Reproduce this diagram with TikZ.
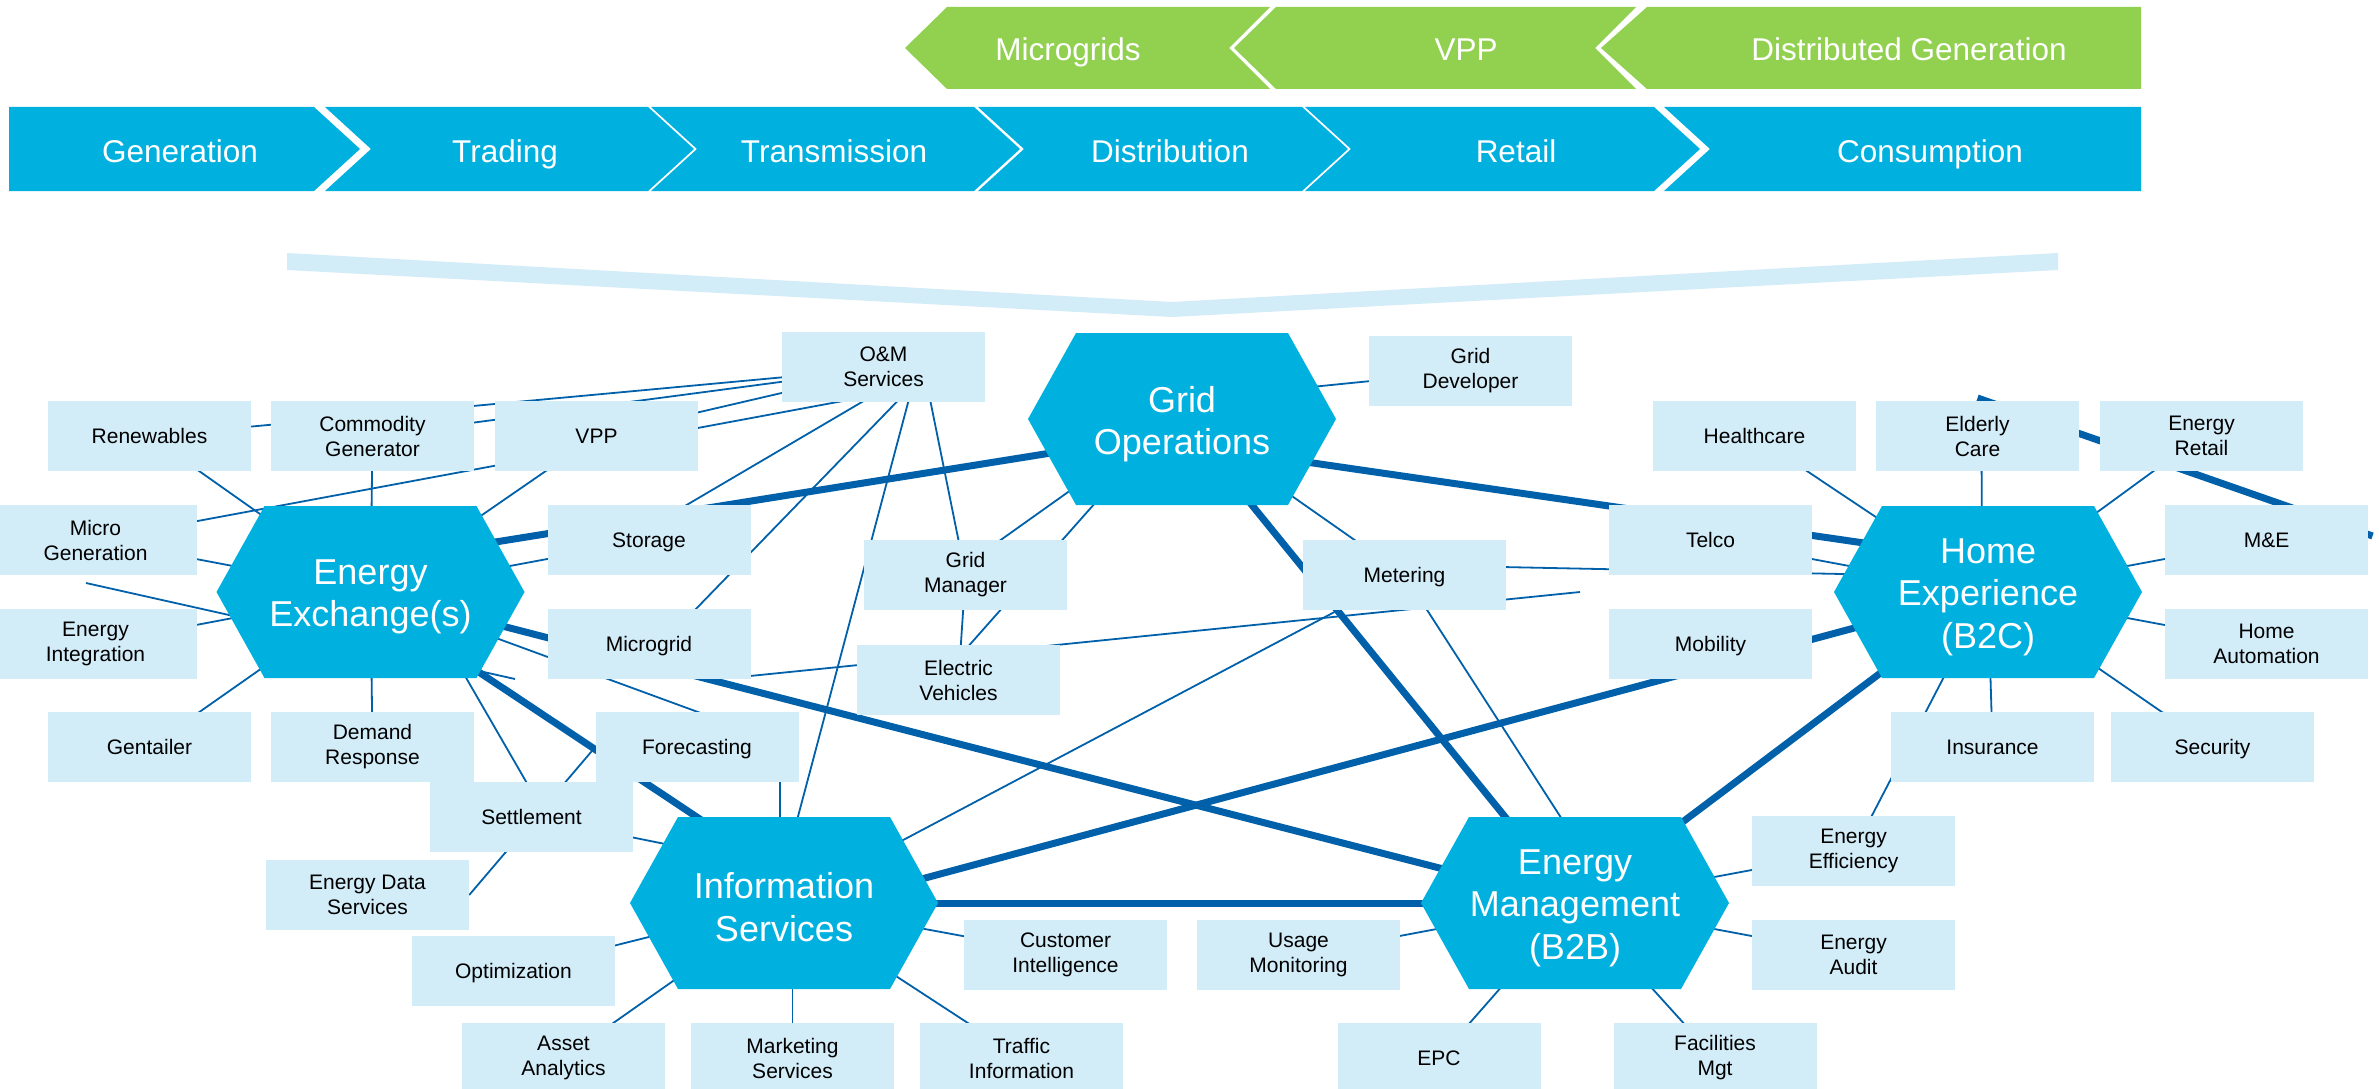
\documentclass[tikz,border=0pt]{standalone}
\usepackage{fontspec}
\setmainfont{Liberation Sans}
\usetikzlibrary{calc}
\definecolor{cblue}{RGB}{0,176,222}
\definecolor{cgreen}{RGB}{146,208,80}
\definecolor{cbox}{RGB}{210,236,248}
\definecolor{cband}{RGB}{210,236,248}
\definecolor{cline}{RGB}{0,97,170}
\pgfdeclarelayer{bgwhite}
\pgfdeclarelayer{lines}
\pgfdeclarelayer{hexes}
\pgfsetlayers{bgwhite,lines,hexes,main}
\newcommand\hexfill[1]{%
  \begin{pgfonlayer}{hexes}
  \fill[cblue] ($(#1.center)+(-154,0)$) -- ($(#1.center)+(-106,-86)$) -- ($(#1.center)+(106,-86)$) -- ($(#1.center)+(154,0)$) -- ($(#1.center)+(106,86)$) -- ($(#1.center)+(-106,86)$) -- cycle;
  \end{pgfonlayer}}
\begin{document}
\begin{tikzpicture}[x=1pt,y=-1pt,
  box/.style={fill=cbox, minimum width=203pt, minimum height=70pt, inner sep=0pt, align=center, font=\fontsize{21}{25}\selectfont, text=black},
  boxone/.style={box, text height=15pt, text depth=0pt},
  hexnode/.style={minimum width=307pt, minimum height=172pt, inner sep=0pt},
  hextext/.style={inner sep=0pt, align=center, font=\fontsize{36}{42.5}\selectfont, text=white},
  conn/.style={draw=cline, line width=1.8pt},
  bigconn/.style={draw=cline, line width=7pt},
  chevtext/.style={text=white, font=\fontsize{31.5}{36}\selectfont, inner sep=0pt, text height=22.5pt, text depth=0pt},
]
\useasboundingbox (0,0) rectangle (2379,1089);
\begin{pgfonlayer}{bgwhite}
\fill[white] (0,0) rectangle (2379,1089);
\end{pgfonlayer}
\clip (0,0) rectangle (2379,1089);

% green chevrons
\fill[cgreen] (905,48) -- (947,7) -- (1270,7) -- (1229,48) -- (1270,89) -- (947,89) -- cycle;
\fill[cgreen] (1234,48) -- (1276,7) -- (1636,7) -- (1595,48) -- (1636,89) -- (1276,89) -- cycle;
\fill[cgreen] (1601,48) -- (1647,7) -- (2141,7) -- (2141,89) -- (1647,89) -- cycle;
\node[chevtext] (tMicrogrids) at (1068,49) {Microgrids};
\node[chevtext] (tVPP) at (1466,49) {VPP};
\node[chevtext] (tDG) at (1909,49) {Distributed Generation};

% blue chevrons
\fill[cblue] (9,107) -- (314,107) -- (360,149) -- (314,191) -- (9,191) -- cycle;
\fill[cblue] (325,107) -- (648,107) -- (694,149) -- (648,191) -- (325,191) -- (371,149) -- cycle;
\fill[cblue] (651,107) -- (974,107) -- (1020,149) -- (974,191) -- (651,191) -- (697,149) -- cycle;
\fill[cblue] (978,107) -- (1302,107) -- (1348,149) -- (1302,191) -- (978,191) -- (1024,149) -- cycle;
\fill[cblue] (1305,107) -- (1654,107) -- (1700,149) -- (1654,191) -- (1305,191) -- (1351,149) -- cycle;
\fill[cblue] (1664,107) -- (2141,107) -- (2141,191) -- (1664,191) -- (1710,149) -- cycle;
\node[chevtext] (tGen) at (180,151) {Generation};
\node[chevtext] (tTrad) at (505,151) {Trading};
\node[chevtext] (tTrans) at (834,151) {Transmission};
\node[chevtext] (tDist) at (1170,151) {Distribution};
\node[chevtext] (tRet) at (1516,151) {Retail};
\node[chevtext] (tCons) at (1930,151) {Consumption};

% band
\fill[cband] (287,253) -- (1172,302) -- (2058,253) -- (2058,270) -- (1172,317) -- (287,270) -- cycle;

% hexagons
\node[hexnode] (ee) at (370.5,592) {};
\node[hexnode] (go) at (1182,419) {};
\node[hexnode] (he) at (1988,592) {};
\node[hexnode] (is) at (784,903) {};
\node[hexnode] (em) at (1575,903) {};
\hexfill{ee}\hexfill{go}\hexfill{he}\hexfill{is}\hexfill{em}
\node[hextext] (eeT) at ($(ee.center)+(0,5)$) {Energy\\Exchange(s)};
\node[hextext] (goT) at ($(go.center)+(0,5)$) {Grid\\Operations};
\node[hextext] (heT) at ($(he.center)+(0,5)$) {Home\\Experience\\(B2C)};
\node[hextext] (isT) at ($(is.center)+(0,4)$) {Information\\Services};
\node[hextext] (emT) at ($(em.center)+(0,5)$) {Energy\\Management\\(B2B)};

% boxes
\node[box] (om) at (883.5,367) {O\&M\\Services};
\node[box] (gd) at (1470.5,371) {Grid\\Developer};
\node[boxone] (ren) at (149.5,436) {Renewables};
\node[box] (cg) at (372.5,436) {Commodity\\Generator};
\node[boxone] (vpp) at (596.5,436) {VPP};
\node[boxone] (hc) at (1754.5,436) {Healthcare};
\node[box] (ec) at (1977.5,436) {Elderly\\Care};
\node[box] (er) at (2201.5,436) {Energy\\Retail};
\node[box] (mg) at (95.5,540) {Micro\\Generation};
\node[boxone] (sto) at (649,540) {Storage};
\node[box] (gm) at (965.5,575) {Grid\\Manager};
\node[boxone] (met) at (1404.5,575) {Metering};
\node[boxone] (tel) at (1710.5,540) {Telco};
\node[boxone] (me) at (2266.5,540) {M\&E};
\node[box] (ei) at (95.5,644) {Energy\\Integration};
\node[boxone] (mgd) at (649,644) {Microgrid};
\node[box] (ev) at (958.5,680) {Electric\\Vehicles};
\node[boxone] (mob) at (1710.5,644) {Mobility};
\node[box] (ha) at (2266.5,644) {Home\\Automation};
\node[boxone] (gen) at (149.5,747) {Gentailer};
\node[box] (dr) at (372.5,747) {Demand\\Response};
\node[boxone] (fc) at (697,747) {Forecasting};
\node[boxone] (ins) at (1992.5,747) {Insurance};
\node[boxone] (sec) at (2212.5,747) {Security};
\node[boxone] (set) at (531.5,817) {Settlement};
\node[box] (eeff) at (1853.5,851) {Energy\\Efficiency};
\node[box] (eds) at (367.5,895) {Energy Data\\Services};
\node[boxone] (opt) at (513.5,971) {Optimization};
\node[box] (ci) at (1065.5,955) {Customer\\Intelligence};
\node[box] (um) at (1298.5,955) {Usage\\Monitoring};
\node[box] (ea) at (1853.5,955) {Energy\\Audit};
\node[box] (aa) at (563.5,1058) {Asset\\Analytics};
\node[box] (ms) at (792.5,1058) {Marketing\\Services};
\node[box] (ti) at (1021.5,1058) {Traffic\\Information};
\node[boxone] (epc) at (1439,1058) {EPC};
\node[box] (fm) at (1715,1058) {Facilities\\Mgt};

\coordinate (fA) at (86,583);
\coordinate (fB) at (515,679);
\coordinate (fC) at (1580,592);

\begin{pgfonlayer}{lines}
% thick connectors
\draw[bigconn] ($(ee.center)+(0,-30)$) -- ($(go.center)+(0,13)$);
\draw[bigconn] ($(go.center)+(0,25)$) -- ($(he.center)+(0,-31)$);
\draw[bigconn] (go.center) -- (em.center);
\draw[bigconn] ($(ee.center)+(0,8)$) -- ($(is.center)+(0,-28)$);
\draw[bigconn] (ee.center) -- (em.center);
\draw[bigconn] ($(is.center)+(0,13)$) -- (he.center);
\draw[bigconn] (is.center) -- (em.center);
\draw[bigconn] (he.center) -- (em.center);
\draw[bigconn] ($(ec.center)+(0,-38)$) -- ($(me.center)+(106,-4)$);
% O&M
\draw[conn] ($(om.center)+(10,0)$) -- (ren.center);
\draw[conn] ($(om.center)+(10,0)$) -- (cg.center);
\draw[conn] ($(om.center)+(10,0)$) -- (vpp.center);
\draw[conn] (mg.center) -- ($(om.center)+(-3,27)$);
\draw[conn] ($(om.center)+(38,0)$) -- ($(sto.center)+(-22,0)$);
\draw[conn] ($(om.center)+(47,0)$) -- ($(mgd.center)+(13,0)$);
\draw[conn] ($(om.center)+(34,0)$) -- ($(is.center)+(-9,0)$);
\draw[conn] ($(om.center)+(40,0)$) -- (gm.center);
% Energy Exchange
\foreach \n in {ren,cg,vpp,mg,ei,gen,dr,sto} \draw[conn] (ee.center) -- (\n.center);
\draw[conn] (fA) -- (fB);
\draw[conn] ($(ee.center)+(46,0)$) -- ($(set.center)+(15,0)$);
\draw[conn] (ee.center) -- ($(fc.center)+(20,-28)$);
\draw[conn] (eds.east) -- (fc.west);
% Information Services
\draw[conn] (set.center) -- ($(is.center)+(0,-35)$);
\draw[conn] ($(fc.center)+(83,0)$) -- ($(is.center)+(-4,0)$);
\foreach \n in {opt,aa,ti,ci} \draw[conn] (is.center) -- (\n.center);
\draw[conn] (ms.center) -- (ms.center |- is.center);
\draw[conn] (met.center) -- (is.center);
% Grid Operations
\draw[conn] ($(mgd.center)+(91,33)$) -- (fC);
\draw[conn] ($(gm.center)+(0,-10)$) -- ($(go.center)+(0,-8)$);
\draw[conn] ($(go.center)+(-12.6,0)$) -- ($(ev.center)+(-20,0)$);
\draw[conn] (gm.center) -- (ev.center);
\draw[conn] ($(go.center)+(0,-19)$) -- (gd.center);
\draw[conn] (go.center) -- (met.center);
\draw[conn] ($(met.center)+(0,-10)$) -- ($(he.center)+(0,-15)$);
\draw[conn] (met.center) -- ($(em.center)+(41,0)$);
% Home Experience
\draw[conn] (tel.center) -- (he.center);
\foreach \n in {hc,er,me,ha,ins,sec,eeff} \draw[conn] (he.center) -- (\n.center);
\draw[conn] ($(ec.center)+(4,0)$) -- ($(he.center)+(-6,0)$);
% Energy Management
\foreach \n in {eeff,ea,um,epc,fm} \draw[conn] (em.center) -- (\n.center);
\end{pgfonlayer}
\end{tikzpicture}
\end{document}
